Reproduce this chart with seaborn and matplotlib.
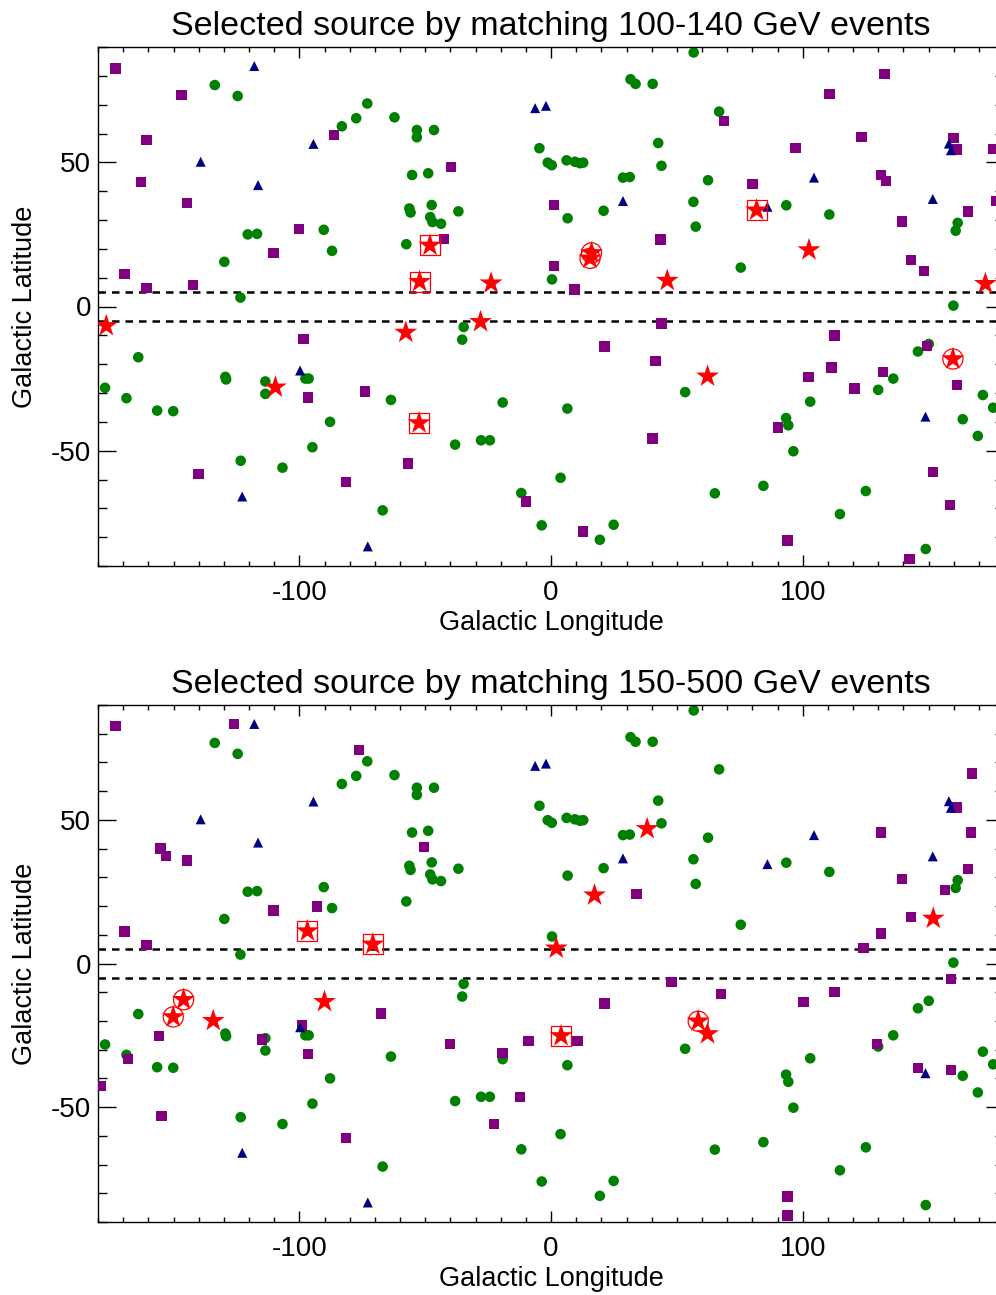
"""Selected sources matched to 100-140 GeV and 150-500 GeV events (galactic coords)."""
import numpy as np
import matplotlib
matplotlib.use("Agg")
import matplotlib.pyplot as plt
from matplotlib.ticker import MultipleLocator
import seaborn as sns

# ---------------------------------------------------------------------------
# Data
# ---------------------------------------------------------------------------

# green circles -- same catalogue in both panels
circ_lon = [-133.6, -124.5, -73.0, -77.4, -83.1, -62.2, -120.5, -116.8, -90.3, -87.0,
            -129.8, -123.4, 56.7, 31.6, 33.6, 40.4, -53.3, -53.3, -46.5, -4.6,
            -1.3, 0.3, 6.2, 9.5, 11.5, 12.8, 42.6, 43.9, 28.6, 31.3,
            -55.2, -48.8, -56.3, -55.8, -47.4, -48.0, -47.1, -43.7, -36.8, -57.5,
            6.6, 20.9, 56.6, 57.5, 0.4, 66.8, 62.4, 93.5, 110.6, 161.6,
            160.8, 75.4, 159.9,
            -164.0, -177.2, -168.7, -156.5, -150.1, -129.4, -129.1, -113.5, -113.5, -97.6,
            -96.3, -63.6, -87.8, -94.8, -123.3, -106.7, -66.9, -34.7, -35.3, -38.1,
            -27.8, -24.3, -19.2, 6.5, -11.8, 3.8, -3.7, 19.4, 24.9, 53.3,
            150.1, 145.8, 130.0, 136.0, 171.6, 175.7, 103.0, 163.6, 169.6, 93.4,
            94.3, 96.3, 65.1, 84.4, 125.1, 114.8, 148.9]
circ_lat = [76.8, 73.0, 70.4, 65.3, 62.5, 65.6, 25.0, 25.2, 26.6, 19.3,
            15.5, 3.1, 88.1, 78.8, 77.2, 77.2, 61.2, 58.7, 61.2, 54.9,
            49.9, 49.0, 50.7, 50.2, 49.7, 49.9, 56.7, 48.8, 44.7, 44.9,
            45.6, 46.2, 34.0, 32.6, 35.2, 31.0, 29.3, 28.7, 33.0, 21.6,
            30.6, 33.2, 36.3, 27.7, 9.4, 67.6, 43.8, 35.1, 31.9, 29.0,
            26.3, 13.5, 0.3,
            -17.6, -28.2, -31.8, -36.1, -36.3, -24.4, -25.3, -26.0, -30.3, -25.0,
            -25.0, -32.4, -40.0, -48.8, -53.5, -55.9, -70.7, -7.1, -11.5, -47.9,
            -46.4, -46.4, -33.3, -35.4, -64.7, -59.4, -75.9, -80.9, -75.7, -29.7,
            -13.0, -15.6, -28.9, -25.0, -30.7, -35.1, -33.0, -39.1, -44.9, -38.7,
            -41.2, -50.2, -64.8, -62.2, -64.0, -72.0, -84.1]

# navy triangles -- same in both panels
tri_lon = [-117.9, -94.4, -139.2, -116.4, -6.3, -2.0, 28.6, 158.1, 158.9, 104.5,
           151.7, 86.0, -99.7, -122.7, -72.8, 148.8]
tri_lat = [83.4, 56.4, 50.2, 42.1, 68.8, 69.6, 36.6, 56.5, 54.2, 44.7,
           37.3, 34.6, -22.2, -65.9, -83.2, -38.2]

# purple squares, 100-140 GeV panel
sq_lon_low = [-173.0, -146.8, -86.2, -160.8, -162.8, -144.6, -100.1, -110.3, -169.4, -160.8,
              -142.2, -39.8, -42.6, 1.1, 43.5, 1.1, 9.4, 68.7, 132.5, 110.6,
              123.3, 97.1, 159.9, 161.4, 175.9, 80.0, 131.2, 133.2, 165.7, 177.0,
              139.5, 143.1, 148.3,
              -98.4, -96.6, -73.9, -140.1, -81.5, -56.9, -9.9, 12.7, 21.3, 43.9,
              41.5, 40.4, 112.6, 149.5, 102.3, 111.4, 132.0, 120.6, 161.4, 90.1,
              151.9, 158.6, 93.9, 142.5]
sq_lat_low = [82.6, 73.3, 59.5, 57.8, 43.2, 35.9, 26.9, 18.5, 11.2, 6.5,
              7.4, 48.4, 23.4, 35.3, 23.3, 14.0, 5.9, 64.4, 80.7, 73.6,
              58.8, 55.0, 58.4, 54.5, 54.6, 42.5, 45.6, 43.5, 33.0, 36.6,
              29.5, 16.1, 12.3,
              -11.2, -31.6, -29.5, -58.0, -60.8, -54.5, -67.6, -78.1, -13.9, -5.9,
              -18.8, -45.8, -10.0, -13.8, -24.5, -21.1, -22.8, -28.4, -27.3, -41.9,
              -57.5, -68.8, -81.1, -87.5]

# purple squares, 150-500 GeV panel
sq_lon_high = [-173.0, -125.9, -76.3, -155.2, -152.9, -144.6, -110.3, -93.0, -169.4, -160.8,
               -50.4, 34.0, 167.3, 161.2, 166.9, 131.2, 139.5, 156.6, 165.7, 143.1,
               131.2, 124.2,
               -155.7, -168.0, -179.0, -154.8, -114.8, -98.9, -96.6, -67.5, -81.5, -40.2,
               -19.2, -8.9, 10.6, -12.4, -22.6, 21.3, 47.9, 67.5, 100.4, 112.7,
               159.0, 129.6, 145.9, 159.0, 93.9, 93.9]
sq_lat_high = [82.6, 83.4, 74.4, 40.0, 37.5, 35.9, 18.5, 19.8, 11.2, 6.5,
               40.6, 24.3, 66.1, 54.3, 45.6, 45.6, 29.5, 25.5, 33.0, 16.1,
               10.4, 5.3,
               -25.3, -33.3, -42.7, -53.1, -26.4, -21.6, -31.6, -17.4, -60.8, -28.0,
               -31.1, -27.0, -27.0, -46.4, -55.8, -13.9, -6.5, -10.6, -13.4, -10.0,
               -5.5, -28.0, -36.4, -37.0, -81.1, -87.7]

# selected sources (red stars); halo: '' none, 's' boxed, 'o' circled
star_lon_low = [-176.7, -109.5, -57.7, -28.0, -23.8, 46.2, 62.2, 102.5, 172.6,
                -48.1, -52.2, -52.4, 81.7, 16.1, 15.5, 159.7]
star_lat_low = [-6.7, -28.0, -9.0, -5.3, 8.1, 9.0, -24.2, 19.6, 7.9,
                21.2, 8.6, -40.4, 33.4, 18.6, 16.7, -18.2]
star_halo_low = ['', '', '', '', '', '', '', '', '',
                 's', 's', 's', 's', 'o', 'o', 'o']

star_lon_high = [-134.2, -90.0, 38.2, 17.3, 2.1, 62.2, 151.9,
                 -96.8, -70.8, 4.0, -146.0, -150.1, 58.5]
star_lat_high = [-19.9, -13.3, 46.9, 23.8, 5.3, -24.5, 15.7,
                 11.3, 6.7, -25.2, -12.6, -18.6, -20.1]
star_halo_high = ['', '', '', '', '', '', '',
                  's', 's', 's', 'o', 'o', 'o']

TITLES = ['Selected source by matching 100-140 GeV events',
          'Selected source by matching 150-500 GeV events']

GREEN, PURPLE, NAVY, RED = '#008000', '#800080', '#000080', '#ff0000'


def draw_panel(ax, sq_lon, sq_lat, st_lon, st_lat, st_halo, title):
    sns.scatterplot(x=circ_lon, y=circ_lat, marker='o', s=58, color=GREEN,
                    edgecolor='none', ax=ax, zorder=2, legend=False)
    sns.scatterplot(x=sq_lon, y=sq_lat, marker='s', s=56, color=PURPLE,
                    edgecolor='none', ax=ax, zorder=3, legend=False)
    sns.scatterplot(x=tri_lon, y=tri_lat, marker='^', s=52, color=NAVY,
                    edgecolor='none', ax=ax, zorder=4, legend=False)
    sns.scatterplot(x=st_lon, y=st_lat, marker='*', s=300, color=RED,
                    edgecolor='none', ax=ax, zorder=5, legend=False)
    for halo in ('s', 'o'):
        hx = [x for x, h in zip(st_lon, st_halo) if h == halo]
        hy = [y for y, h in zip(st_lat, st_halo) if h == halo]
        ax.scatter(hx, hy, marker=halo, s=210, facecolors='none',
                   edgecolors=RED, linewidths=0.9, zorder=6)

    for b in (5, -5):
        ax.axhline(b, color='black', lw=1.8, ls=(0, (3.0, 2.4)), zorder=1)

    ax.set_xlim(-180, 180)
    ax.set_ylim(-90, 90)
    ax.xaxis.set_major_locator(MultipleLocator(100))
    ax.xaxis.set_minor_locator(MultipleLocator(10))
    ax.yaxis.set_major_locator(MultipleLocator(50))
    ax.yaxis.set_minor_locator(MultipleLocator(10))
    ax.tick_params(axis='both', which='both', direction='in',
                   top=True, right=True, width=1, colors='black', labelsize=20)
    ax.tick_params(axis='x', which='major', length=8, pad=10)
    ax.tick_params(axis='x', which='minor', length=3.8)
    ax.tick_params(axis='y', which='major', length=13, pad=5)
    ax.tick_params(axis='y', which='minor', length=6.5)
    for sp in ax.spines.values():
        sp.set_linewidth(1.0)
        sp.set_color('black')

    ax.set_xlabel('Galactic Longitude', fontsize=19.5, labelpad=3)
    ax.set_ylabel('Galactic Latitude', fontsize=19.5, labelpad=9)
    ax.set_title(title, fontsize=24.5, pad=9)


sns.set_style('ticks')
plt.rcParams['font.family'] = ['Liberation Sans', 'DejaVu Sans']
plt.rcParams['text.color'] = 'black'
plt.rcParams['axes.labelcolor'] = 'black'
plt.rcParams['axes.unicode_minus'] = False

W, H = 996, 1295
fig = plt.figure(figsize=(W / 100, H / 100), dpi=100)
ax_top = fig.add_axes([98 / W, 1 - 566 / H, 906 / W, 519 / H])
ax_bot = fig.add_axes([98 / W, 1 - 1222 / H, 906 / W, 517 / H])

draw_panel(ax_top, sq_lon_low, sq_lat_low, star_lon_low, star_lat_low,
           star_halo_low, TITLES[0])
draw_panel(ax_bot, sq_lon_high, sq_lat_high, star_lon_high, star_lat_high,
           star_halo_high, TITLES[1])

fig.savefig('out.png', dpi=100)
